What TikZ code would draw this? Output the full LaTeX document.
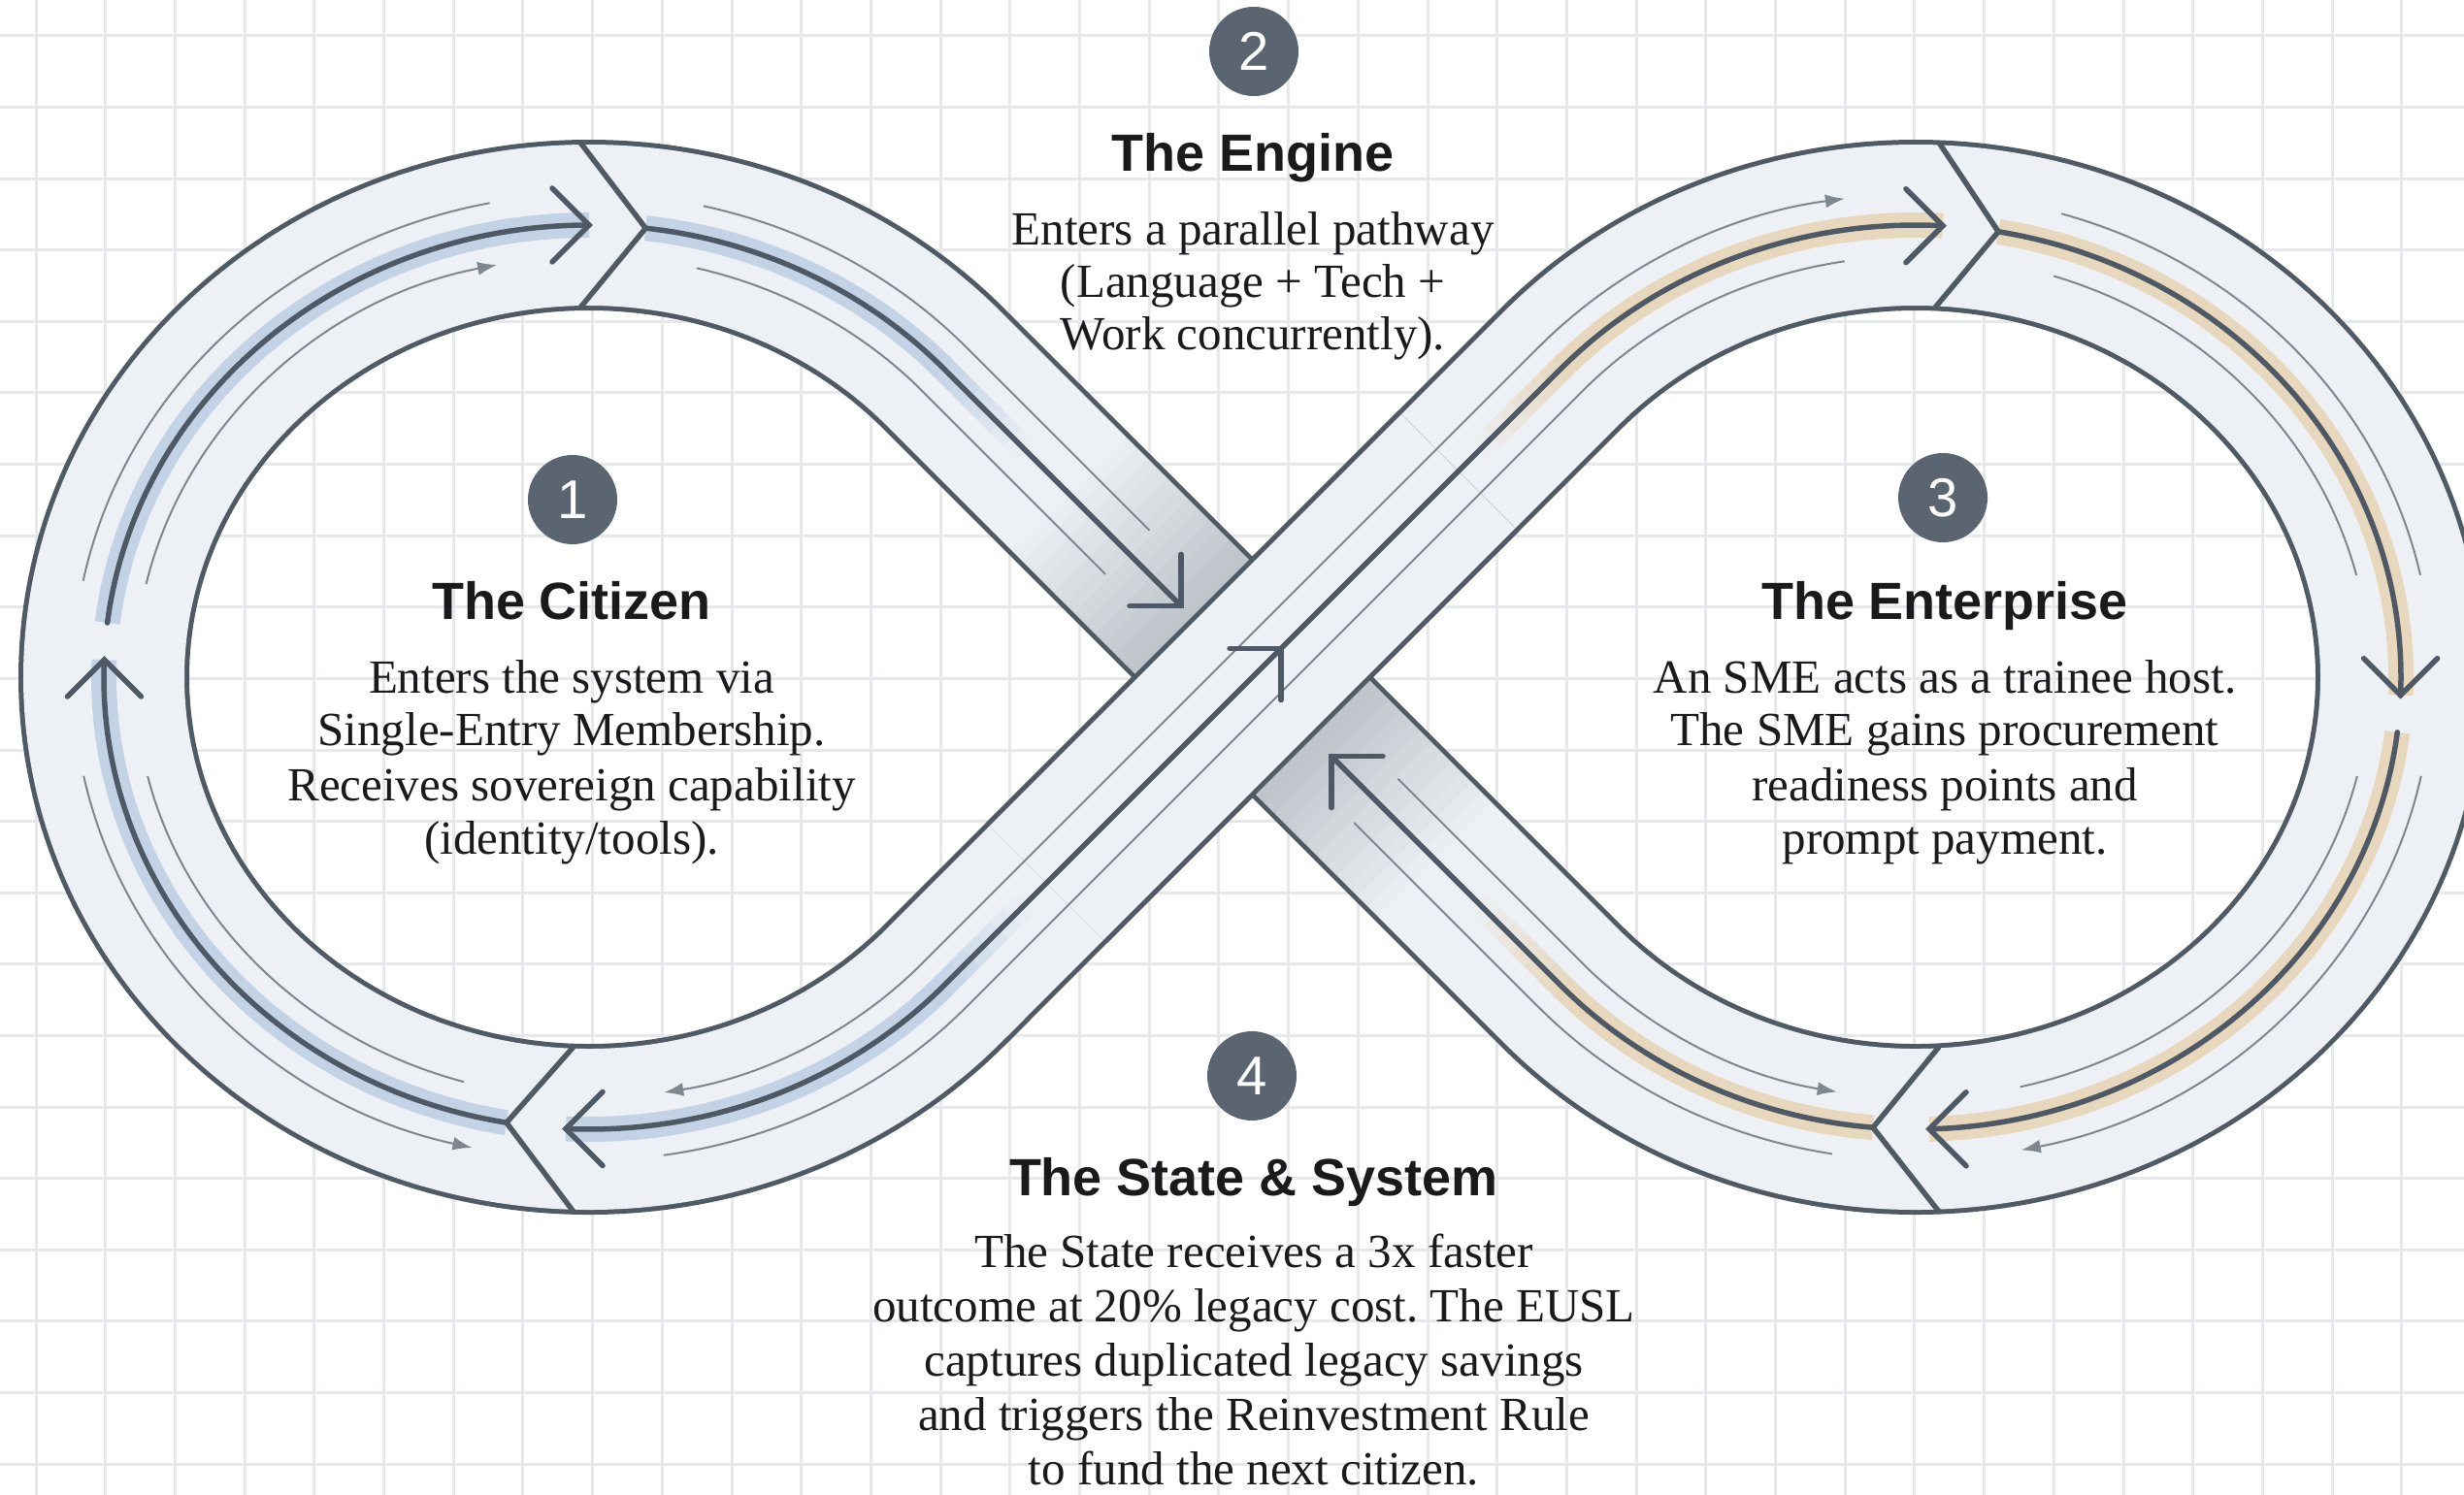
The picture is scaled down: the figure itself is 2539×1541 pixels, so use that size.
\documentclass[tikz,border=0pt]{standalone}
\usepackage{fontspec}
\setmainfont{Liberation Serif}
\newfontfamily\headfont{Liberation Sans}
\usetikzlibrary{arrows.meta}
\frenchspacing
\definecolor{gridc}{HTML}{E6E8EB}
\definecolor{bandline}{HTML}{505A64}
\definecolor{bandfill}{HTML}{EDF1F5}
\definecolor{centrec}{HTML}{4E5965}
\definecolor{thinc}{HTML}{7E868F}
\definecolor{glowblue}{HTML}{B9CCE2}
\definecolor{glowtan}{HTML}{E6D2B0}
\definecolor{circlec}{HTML}{5A6571}
\definecolor{shadec}{HTML}{A3AAB2}
\definecolor{textc}{HTML}{1A1A1A}
\tikzset{
  ecen/.style={x radius=500, y radius=466},
  eout/.style={x radius=532, y radius=498},
  einn/.style={x radius=468, y radius=434},
  gridline/.style={draw=gridc, line width=0.3mm},
  bandstyle/.style={draw=bandline, line width=0.5mm, double=bandfill, double distance=16.6mm},
  centreline/.style={draw=centrec, line width=0.55mm, line cap=round},
  thinline/.style={draw=thinc, line width=0.2mm},
  chev/.style={draw=centrec, line width=0.55mm, line cap=round, line join=miter},
  divline/.style={draw=bandline, line width=0.55mm, line join=miter},
  glowb/.style={draw=glowblue, line width=2.6mm, draw opacity=0.8},
  glowt/.style={draw=glowtan, line width=2.6mm, draw opacity=0.8},
  numcirc/.style={circle, fill=circlec, minimum size=9.2mm, inner sep=0pt, text=white,
    font=\headfont\fontsize{16pt}{16pt}\selectfont},
  titletext/.style={anchor=base, text=textc, inner sep=0pt,
    font=\headfont\bfseries\fontsize{15.36pt}{18pt}\selectfont},
  bodytext/.style={anchor=base, text=textc, inner sep=0pt,
    font=\fontsize{13.95pt}{16pt}\selectfont},
  tinytip/.tip={Latex[length=2mm,width=1.4mm]}
}
\begin{document}
\begin{tikzpicture}[x=0.1mm, y=-0.1mm]
\useasboundingbox (0,0) rectangle (2539,1541);
\clip (0,0) rectangle (2539,1541);
\fill[white] (0,0) rectangle (2539,1541);
% grid
\foreach \k in {0,...,35} {\draw[gridline] ({37+71.7*\k},0) -- ({37+71.7*\k},1541);}
\foreach \k in {0,...,20} {\draw[gridline] (0,{37+73.6*\k}) -- (2539,{37+73.6*\k});}

\coordinate (X) at (1290.5,698);

% full band (figure eight)
\draw[bandstyle] (972.7,1015.8) -- (1608.3,380.2)
  arc[start angle=223, end angle=497, ecen] -- (972.7,380.2)
  arc[start angle=-43, end angle=-317, ecen] -- cycle;

% shadow on the under band near the crossing
\foreach \i in {0,...,11} {
  \pgfmathsetmacro\op{0.62*(1-\i/12)}
  \pgfmathsetmacro\ta{86+15*\i}
  \pgfmathsetmacro\tb{86+15*(\i+1)}
  \draw[draw=shadec, line width=16.6mm, draw opacity=\op]
    ({1290.5-0.70711*\ta},{698-0.70711*\ta}) -- ({1290.5-0.70711*\tb},{698-0.70711*\tb});
  \draw[draw=shadec, line width=16.6mm, draw opacity=\op]
    ({1290.5+0.70711*\ta},{698+0.70711*\ta}) -- ({1290.5+0.70711*\tb},{698+0.70711*\tb});
}

% ---------- glows (loops and under band) ----------
\draw[glowb] ([shift={(607,698)}]-173.1:500 and 466) arc[start angle=-173.1, end angle=-90, ecen];
\draw[glowb] ([shift={(607,698)}]-177.8:500 and 466) arc[start angle=-177.8, end angle=-260.2, ecen];
\draw[glowb] ([shift={(607,698)}]-83.3:500 and 466) arc[start angle=-83.3, end angle=-43, ecen];
\draw[glowt] ([shift={(1974,698)}]279.8:500 and 466) arc[start angle=279.8, end angle=362.3, ecen];
\draw[glowt] ([shift={(1974,698)}]367:500 and 466) arc[start angle=367, end angle=448.4, ecen];
\draw[glowt] ([shift={(1974,698)}]455.05:500 and 466) arc[start angle=455.05, end angle=497, ecen];
\foreach \i in {0,...,5} {
  \pgfmathsetmacro\op{0.8*(1-(\i+0.5)/6)}
  \pgfmathsetmacro\ta{449.4-20*\i}
  \pgfmathsetmacro\tb{449.4-20*(\i+1)}
  \draw[draw=glowblue, line width=2.6mm, draw opacity=\op]
    ({1290.5-0.70711*\ta},{698-0.70711*\ta}) -- ({1290.5-0.70711*\tb},{698-0.70711*\tb});
  \draw[draw=glowtan, line width=2.6mm, draw opacity=\op]
    ({1290.5+0.70711*\ta},{698+0.70711*\ta}) -- ({1290.5+0.70711*\tb},{698+0.70711*\tb});
}

% ---------- thin lines (loops and under band) ----------
\draw[thinline] ([shift={(607,698)}]-168.5:532 and 498) arc[start angle=-168.5, end angle=-101.1, eout];
\draw[thinline, -tinytip] ([shift={(607,698)}]-167.2:468 and 434) arc[start angle=-167.2, end angle=-101.7, einn];
\draw[thinline] ([shift={(607,698)}]-77.2:532 and 498) arc[start angle=-77.2, end angle=-43, eout] -- (1184.4,546.7);
\draw[thinline] ([shift={(607,698)}]-76.3:468 and 434) arc[start angle=-76.3, end angle=-43, einn] -- (1139.2,591.9);
\draw[thinline, -tinytip] ([shift={(607,698)}]-191.8:532 and 498) arc[start angle=-191.8, end angle=-256.9, eout];
\draw[thinline] ([shift={(607,698)}]-193.6:468 and 434) arc[start angle=-193.6, end angle=-254, einn];
\draw[thinline] ([shift={(1974,698)}]286.4:532 and 498) arc[start angle=286.4, end angle=347.8, eout];
\draw[thinline] ([shift={(1974,698)}]287.7:468 and 434) arc[start angle=287.7, end angle=346, einn];
\draw[thinline, -tinytip] ([shift={(1974,698)}]371.8:532 and 498) arc[start angle=371.8, end angle=438.2, eout];
\draw[thinline] ([shift={(1974,698)}]373.6:468 and 434) arc[start angle=373.6, end angle=436.7, einn];
\draw[thinline, -tinytip] (1440.4,802.7) -- (1631.7,994.0) arc[start angle=497, end angle=460, einn];
\draw[thinline] (1395.2,847.9) -- (1584.9,1037.6) arc[start angle=497, end angle=459.3, eout];

% ---------- centre lines (loops and under band) ----------
\draw[centreline] ([shift={(607,698)}]-173.1:500 and 466) arc[start angle=-173.1, end angle=-90, ecen];
\draw[centreline] ([shift={(607,698)}]-177.8:500 and 466) arc[start angle=-177.8, end angle=-260.2, ecen];
\draw[centreline] ([shift={(607,698)}]-83.3:500 and 466) arc[start angle=-83.3, end angle=-43, ecen] -- (1217,624.5);
\draw[centreline] ([shift={(1974,698)}]279.8:500 and 466) arc[start angle=279.8, end angle=362.3, ecen];
\draw[centreline] ([shift={(1974,698)}]367:500 and 466) arc[start angle=367, end angle=448.4, ecen];
\draw[centreline] ([shift={(1974,698)}]455.05:500 and 466) arc[start angle=455.05, end angle=497, ecen] -- (1372,779.5);

% ---------- chevron arrows ----------
\coordinate (aLT) at (607,232);
\coordinate (aLS) at (107.4,680);
\coordinate (aLB) at (583,1163.5);
\coordinate (aRT) at (2001.9,232.7);
\coordinate (aRS) at (2473.6,716.7);
\coordinate (aRB) at (1988,1163.8);
\coordinate (aUL) at (1217,624.5);
\coordinate (aLR) at (1372,779.5);
\coordinate (aOV) at (1320,668.5);
\draw[chev] ([shift={(-38,-38)}]aLT) -- (aLT) -- ([shift={(-38,38)}]aLT);
\draw[chev] ([shift={(-38,38)}]aLS) -- (aLS) -- ([shift={(38,38)}]aLS);
\draw[chev] ([shift={(-38,-38)}]aRS) -- (aRS) -- ([shift={(38,-38)}]aRS);
\draw[chev] ([shift={(38,-38)}]aRB) -- (aRB) -- ([shift={(38,38)}]aRB);
\draw[chev] ([shift={(-53,0)}]aUL) -- (aUL) -- ([shift={(0,-53)}]aUL);
\draw[chev] ([shift={(53,0)}]aLR) -- (aLR) -- ([shift={(0,53)}]aLR);

% ---------- dividers ----------
\draw[divline] (598,147) -- (665.3,235.2) -- (598,317);
\draw[divline] (591,1079) -- (521.9,1157.2) -- (591,1249);
\draw[divline] (1998,147) -- (2059.1,238.8) -- (1994,317);
\draw[divline] (1998,1079) -- (1930,1162.2) -- (1998,1249);

% ---------- over band ----------
\draw[bandstyle] ({1290.5-0.70711*300},{698+0.70711*300}) -- ({1290.5+0.70711*300},{698-0.70711*300});
\draw[glowb] ([shift={(607,698)}]-267.25:500 and 466) arc[start angle=-267.25, end angle=-317, ecen];
\draw[glowt] (1608.3,380.2) arc[start angle=223, end angle=273.2, ecen];
\foreach \i in {0,...,5} {
  \pgfmathsetmacro\op{0.8*(1-(\i+0.5)/6)}
  \pgfmathsetmacro\ta{449.4-20*\i}
  \pgfmathsetmacro\tb{449.4-20*(\i+1)}
  \draw[draw=glowblue, line width=2.6mm, draw opacity=\op]
    ({1290.5-0.70711*\ta},{698+0.70711*\ta}) -- ({1290.5-0.70711*\tb},{698+0.70711*\tb});
  \draw[draw=glowtan, line width=2.6mm, draw opacity=\op]
    ({1290.5+0.70711*\ta},{698-0.70711*\ta}) -- ({1290.5+0.70711*\tb},{698-0.70711*\tb});
}
\draw[thinline, tinytip-tinytip] ([shift={(607,698)}]-279.5:468 and 434) arc[start angle=-279.5, end angle=-317, einn]
  -- (1584.9,358.4) arc[start angle=223, end angle=262.1, eout];
\draw[thinline] ([shift={(607,698)}]-278.3:532 and 498) arc[start angle=-278.3, end angle=-317, eout]
  -- (1631.7,402.0) arc[start angle=223, end angle=261, einn];
\draw[centreline] ([shift={(607,698)}]-267.25:500 and 466) arc[start angle=-267.25, end angle=-317, ecen]
  -- (1608.3,380.2) arc[start angle=223, end angle=273.2, ecen];
\draw[chev] ([shift={(38,-38)}]aLB) -- (aLB) -- ([shift={(38,38)}]aLB);
\draw[chev] ([shift={(-38,-38)}]aRT) -- (aRT) -- ([shift={(-38,38)}]aRT);
\draw[chev] ([shift={(-53,0)}]aOV) -- (aOV) -- ([shift={(0,53)}]aOV);

% ---------- numbers ----------
\node[numcirc] (n1) at (590,515) {1};
\node[numcirc] (n2) at (1292,53) {2};
\node[numcirc] (n3) at (2002,513) {3};
\node[numcirc] (n4) at (1290,1109) {4};

% ---------- texts ----------
\node[titletext] (t1) at (589,639) {The Citizen};
\node[bodytext] (b11) at (589,714) {Enters the system via};
\node[bodytext] (b12) at (589,769) {Single-Entry Membership.};
\node[bodytext] (b13) at (589,825) {Receives sovereign capability};
\node[bodytext] (b14) at (589,880) {(identity/tools).};

\node[titletext] (t2) at (1291,177) {The Engine};
\node[bodytext] (b21) at (1291,253) {Enters a parallel pathway};
\node[bodytext] (b22) at (1291,307) {(Language + Tech +};
\node[bodytext] (b23) at (1291,361) {Work concurrently).};

\node[titletext] (t3) at (2004,639) {The Enterprise};
\node[bodytext] (b31) at (2004,714) {An SME acts as a trainee host.};
\node[bodytext] (b32) at (2004,769) {The SME gains procurement};
\node[bodytext] (b33) at (2004,825) {readiness points and};
\node[bodytext] (b34) at (2004,880) {prompt payment.};

\node[titletext] (t4) at (1292,1232) {The State \& System};
\node[bodytext] (b41) at (1292,1306) {The State receives a 3x faster};
\node[bodytext] (b42) at (1292,1362) {outcome at 20\% legacy cost. The EUSL};
\node[bodytext] (b43) at (1292,1418) {captures duplicated legacy savings};
\node[bodytext] (b44) at (1292,1474) {and triggers the Reinvestment Rule};
\node[bodytext] (b45) at (1292,1530) {to fund the next citizen.};
\end{tikzpicture}
\end{document}
